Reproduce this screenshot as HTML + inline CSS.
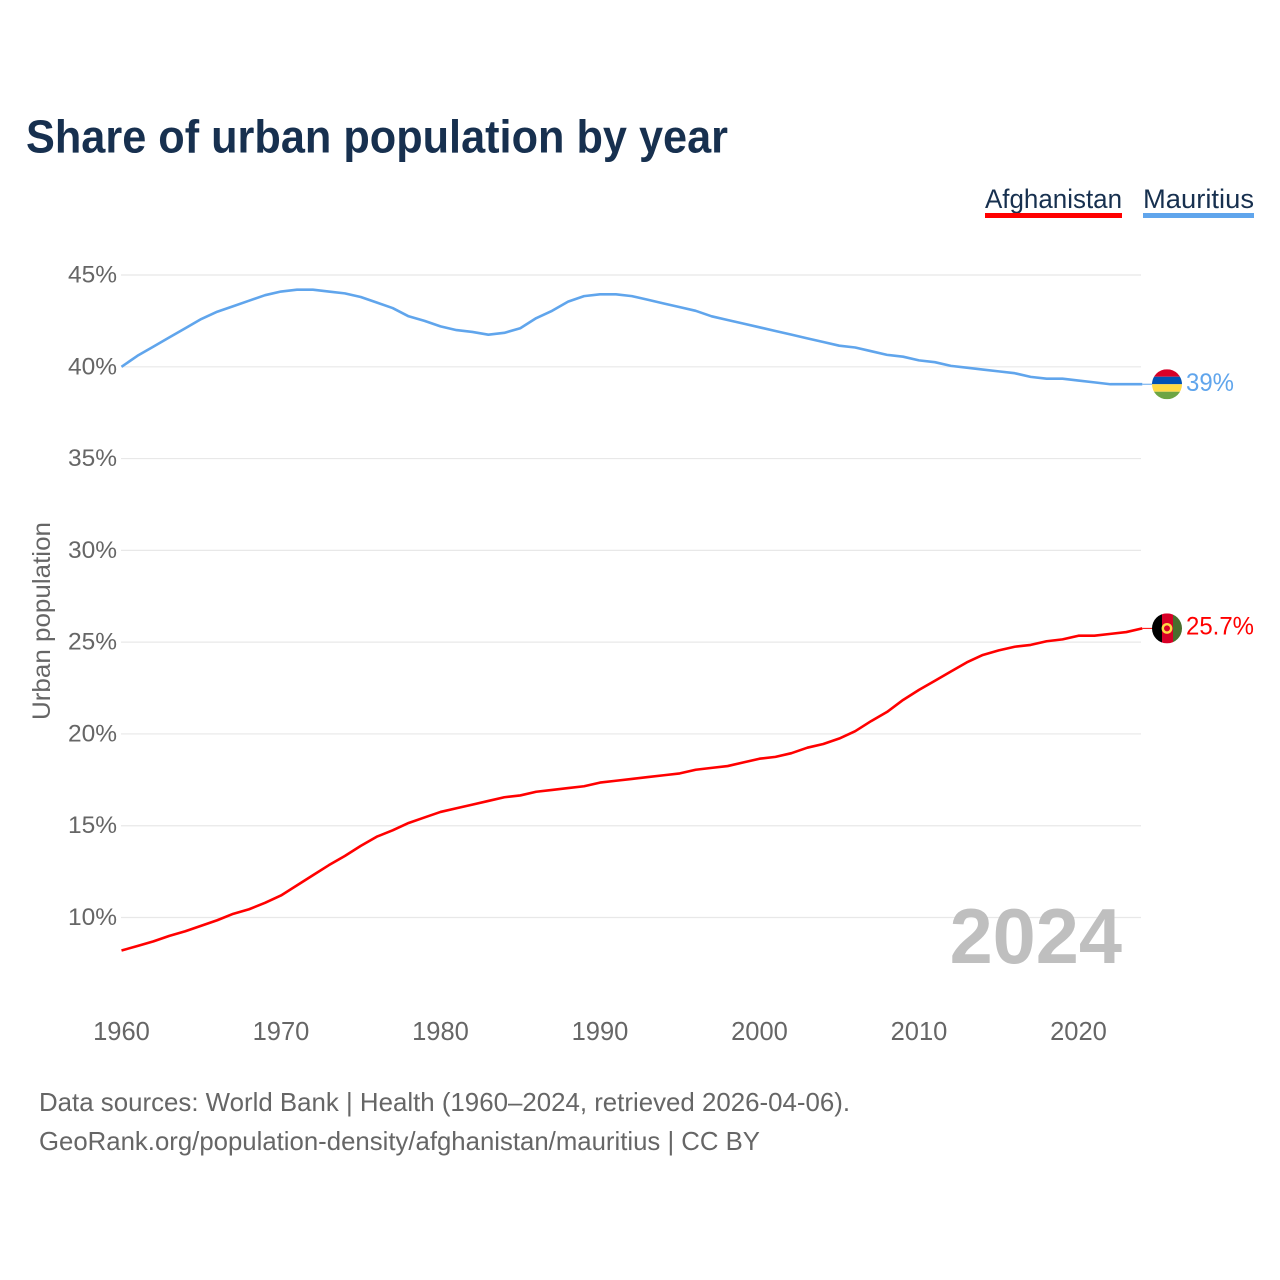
<!DOCTYPE html>
<html lang="en">
<head>
<meta charset="utf-8">
<title>Share of urban population by year</title>
<style>
html,body{margin:0;padding:0;background:#fff;width:1280px;height:1280px;overflow:hidden}
svg{display:block}
text{font-family:"Liberation Sans",sans-serif}
</style>
</head>
<body>
<svg id="chart" xmlns="http://www.w3.org/2000/svg" width="1280" height="1280" viewBox="0 0 1280 1280">
  <defs>
    <clipPath id="clip-mu"><circle cx="1167" cy="384" r="15"/></clipPath>
    <clipPath id="clip-af"><circle cx="1167" cy="628" r="15"/></clipPath>
  </defs>
  <text x="26" y="152.5" font-size="46" font-weight="700" fill="#17304f" textLength="702" lengthAdjust="spacingAndGlyphs">Share of urban population by year</text>

  <g>
    <g>
      <text x="985" y="208" font-size="27" fill="#17304f" textLength="137" lengthAdjust="spacingAndGlyphs">Afghanistan</text>
      <rect x="985" y="213" width="137" height="5" fill="#ff0000"/>
    </g>
    <g>
      <text x="1143" y="208" font-size="27" fill="#17304f" textLength="111" lengthAdjust="spacingAndGlyphs">Mauritius</text>
      <rect x="1143" y="213" width="111" height="5" fill="#60a5ec"/>
    </g>
  </g>

  <g id="grid"></g>
  <g id="yticks"></g>
  <g id="xticks"></g>
  <text transform="translate(50,621) rotate(-90)" text-anchor="middle" font-size="25" fill="#666666" textLength="198" lengthAdjust="spacingAndGlyphs">Urban population</text>

  <text x="1122" y="963" text-anchor="end" font-size="77.5" font-weight="700" fill="#bfbfbf">2024</text>

  <g id="series"></g>

  <g id="flag-mu">
    <g clip-path="url(#clip-mu)">
      <rect x="1152" y="369" width="30" height="7.5" fill="#d80027"/>
      <rect x="1152" y="376.5" width="30" height="7.5" fill="#0052b4"/>
      <rect x="1152" y="384" width="30" height="7.5" fill="#ffda44"/>
      <rect x="1152" y="391.5" width="30" height="7.5" fill="#6da544"/>
    </g>
  </g>
  <g id="flag-af">
    <g clip-path="url(#clip-af)">
      <rect x="1152" y="613" width="10" height="30" fill="#000000"/>
      <rect x="1162" y="613" width="11" height="30" fill="#d80027"/>
      <rect x="1173" y="613" width="9" height="30" fill="#496e2d"/>
      <circle cx="1167" cy="628" r="4.2" fill="none" stroke="#ffda44" stroke-width="2.4"/>
    </g>
  </g>
  <text id="label-mu" x="1186" y="391" font-size="25" fill="#60a5ec" textLength="48" lengthAdjust="spacingAndGlyphs">39%</text>
  <text id="label-af" x="1186" y="634" font-size="25" fill="#ff0000" textLength="68" lengthAdjust="spacingAndGlyphs">25.7%</text>

  <g>
    <text x="39" y="1111" font-size="26" fill="#666666" textLength="811" lengthAdjust="spacingAndGlyphs">Data sources: World Bank | Health (1960–2024, retrieved 2026-04-06).</text>
    <text x="39" y="1150" font-size="26" fill="#666666" textLength="721" lengthAdjust="spacingAndGlyphs">GeoRank.org/population-density/afghanistan/mauritius | CC BY</text>
  </g>
</svg>
<script>
var years = [1960,1961,1962,1963,1964,1965,1966,1967,1968,1969,1970,1971,1972,1973,1974,1975,1976,1977,1978,1979,1980,1981,1982,1983,1984,1985,1986,1987,1988,1989,1990,1991,1992,1993,1994,1995,1996,1997,1998,1999,2000,2001,2002,2003,2004,2005,2006,2007,2008,2009,2010,2011,2012,2013,2014,2015,2016,2017,2018,2019,2020,2021,2022,2023,2024];
var afghanistan = [8.2,8.45,8.7,9.0,9.25,9.55,9.85,10.2,10.45,10.8,11.2,11.75,12.3,12.85,13.35,13.9,14.4,14.75,15.15,15.45,15.75,15.95,16.15,16.35,16.55,16.65,16.85,16.95,17.05,17.15,17.35,17.45,17.55,17.65,17.75,17.85,18.05,18.15,18.25,18.45,18.65,18.75,18.95,19.25,19.45,19.75,20.15,20.7,21.2,21.85,22.4,22.9,23.4,23.9,24.3,24.55,24.75,24.85,25.05,25.15,25.35,25.35,25.45,25.55,25.75];
var mauritius = [40.0,40.6,41.1,41.6,42.1,42.6,43.0,43.3,43.6,43.9,44.1,44.2,44.2,44.1,44.0,43.8,43.5,43.2,42.75,42.5,42.2,42.0,41.9,41.75,41.85,42.1,42.65,43.05,43.55,43.85,43.95,43.95,43.85,43.65,43.45,43.25,43.05,42.75,42.55,42.35,42.15,41.95,41.75,41.55,41.35,41.15,41.05,40.85,40.65,40.55,40.35,40.25,40.05,39.95,39.85,39.75,39.65,39.45,39.35,39.35,39.25,39.15,39.05,39.05,39.05];
var yTickValues = [10,15,20,25,30,35,40,45];
var yTickLabels = ["10%","15%","20%","25%","30%","35%","40%","45%"];
var xTickValues = [1960,1970,1980,1990,2000,2010,2020];
var xTickLabels = ["1960","1970","1980","1990","2000","2010","2020"];

var NS = "http://www.w3.org/2000/svg";
function xScale(year){ return 121.5 + (year - 1960) * 15.95; }
function yScale(value){ return 917.5 - (value - 10) * 18.357; }
function make(tag, parent, attrs, content){
  var el = document.createElementNS(NS, tag);
  for (var k in attrs) el.setAttribute(k, attrs[k]);
  if (content !== undefined) el.textContent = content;
  parent.appendChild(el);
  return el;
}

var gridG = document.getElementById("grid");
var yG = document.getElementById("yticks");
var xG = document.getElementById("xticks");
var seriesG = document.getElementById("series");

yTickValues.forEach(function(v, i){
  var line = make("line", gridG, {x1:121, x2:1141, y1:yScale(v), y2:yScale(v), stroke:"#e8e8e8", "stroke-width":1.2});
  
  
  var t = make("text", yG, {x:117, y:yScale(v) + 7.5, "text-anchor":"end", "font-size":24.5, fill:"#666666"}, yTickLabels[i]);
  
  
});

xTickValues.forEach(function(v, i){
  var t = make("text", xG, {x:xScale(v), y:1040, "text-anchor":"middle", "font-size":25.5, fill:"#666666"}, xTickLabels[i]);
  
  
});

function linePoints(values){
  return values.map(function(v, i){ return xScale(years[i]).toFixed(2) + "," + yScale(v).toFixed(2); }).join(" ");
}

var lineMu = make("polyline", seriesG, {points:linePoints(mauritius), fill:"none", stroke:"#60a5ec", "stroke-width":2.6, "stroke-linejoin":"round"});



var lineAf = make("polyline", seriesG, {points:linePoints(afghanistan), fill:"none", stroke:"#ff0000", "stroke-width":2.6, "stroke-linejoin":"round"});



var lastMu = mauritius[mauritius.length - 1];
var lastAf = afghanistan[afghanistan.length - 1];
var lastX = xScale(years[years.length - 1]);

var connMu = make("line", seriesG, {x1:lastX, x2:1152, y1:yScale(lastMu), y2:yScale(lastMu), stroke:"#60a5ec", "stroke-width":1});



var connAf = make("line", seriesG, {x1:lastX, x2:1152, y1:yScale(lastAf), y2:yScale(lastAf), stroke:"#ff0000", "stroke-width":1});



document.getElementById("flag-mu").setAttribute("transform", "translate(0," + (yScale(lastMu) - 384) + ")");
document.getElementById("flag-af").setAttribute("transform", "translate(0," + (yScale(lastAf) - 628) + ")");
document.getElementById("label-mu").setAttribute("y", yScale(lastMu) + 7);
document.getElementById("label-af").setAttribute("y", yScale(lastAf) + 6);
</script>
</body>
</html>
